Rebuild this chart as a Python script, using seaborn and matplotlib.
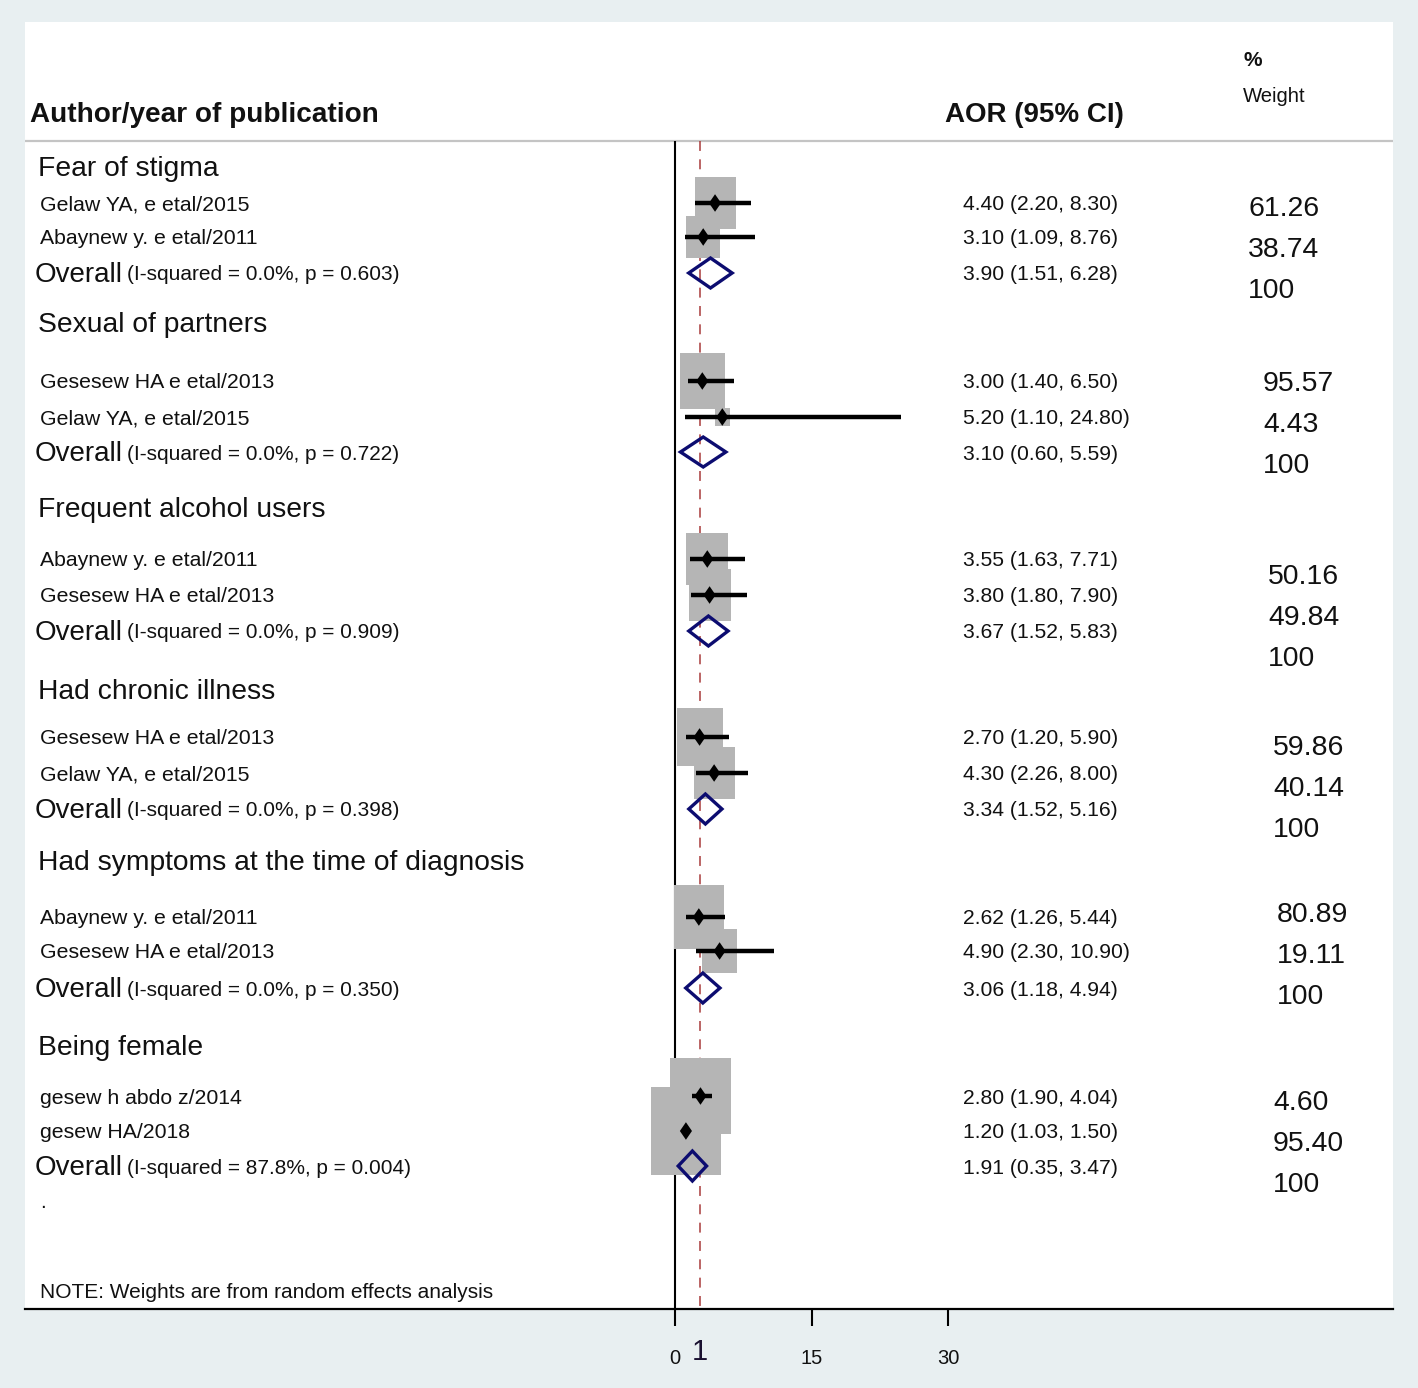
import numpy as np
import pandas as pd
import seaborn as sns
import matplotlib.pyplot as plt
from matplotlib.patches import Rectangle, Polygon

sns.set_theme(style='white')
plt.rcParams['font.family'] = ['Liberation Sans', 'DejaVu Sans']

# data
groups = ['Fear of stigma', 'Sexual of partners', 'Frequent alcohol users',
          'Had chronic illness', 'Had symptoms at the time of diagnosis', 'Being female']
studies = [['Gelaw YA, e etal/2015', 'Abaynew y. e etal/2011'],
           ['Gesesew HA e etal/2013', 'Gelaw YA, e etal/2015'],
           ['Abaynew y. e etal/2011', 'Gesesew HA e etal/2013'],
           ['Gesesew HA e etal/2013', 'Gelaw YA, e etal/2015'],
           ['Abaynew y. e etal/2011', 'Gesesew HA e etal/2013'],
           ['gesew h abdo z/2014', 'gesew HA/2018']]
aor = [[4.40, 3.10], [3.00, 5.20], [3.55, 3.80], [2.70, 4.30], [2.62, 4.90], [2.80, 1.20]]
aor_lo = [[2.20, 1.09], [1.40, 1.10], [1.63, 1.80], [1.20, 2.26], [1.26, 2.30], [1.90, 1.03]]
aor_hi = [[8.30, 8.76], [6.50, 24.80], [7.71, 7.90], [5.90, 8.00], [5.44, 10.90], [4.04, 1.50]]
pooled = [3.90, 3.10, 3.67, 3.34, 3.06, 1.91]
pooled_lo = [1.51, 0.60, 1.52, 1.52, 1.18, 0.35]
pooled_hi = [6.28, 5.59, 5.83, 5.16, 4.94, 3.47]
i_squared = [0.0, 0.0, 0.0, 0.0, 0.0, 87.8]
p_het = ['0.603', '0.722', '0.909', '0.398', '0.350', '0.004']
weights = [[61.26, 38.74], [95.57, 4.43], [50.16, 49.84], [59.86, 40.14], [80.89, 19.11], [4.60, 95.40]]
ref_line = 2.75

# layout (rows in pixel units from top)
header_y = [167, 323, 508, 690, 861, 1046]
study_y = [[203, 237], [381, 417], [559, 595], [737, 773], [917, 951], [1096, 1131]]
overall_y = [273, 452, 631, 809, 988, 1166]
wt_x = [1248, 1263, 1268, 1273, 1277, 1273]
wt_y = [207, 382, 575, 746, 913, 1101]
box_size = [[4.5, 3.75], [4.95, 1.65], [4.6, 4.6], [5.05, 4.5], [5.5, 3.9], [6.6, 7.6]]

PX = 9.1       # pixels per AOR unit
X0 = 675       # pixel of AOR = 0
DY = 2         # text nudge
def cx(px):
    return (px - X0) / PX

W, H = 1418, 1388
fig = plt.figure(figsize=(W / 100, H / 100), dpi=100, facecolor='#e8eff1')
ax = fig.add_axes([25 / W, (H - 1309) / H, (1393 - 25) / W, (1309 - 22) / H])
ax.set_facecolor('white')
ax.set_xlim(cx(25), cx(1393))
ax.set_ylim(1309, 22)

txt = '#111111'

def label(x, y, s, size, **kw):
    ax.text(cx(x), y + DY, s, fontsize=size, color=txt, va='center', **kw)

# lines
ax.axhline(141, color='#c4c4c4', lw=1.6, zorder=1)
ax.vlines(0, 141, 1309, colors='black', lw=1.5, zorder=1)
ax.vlines(ref_line, 141, 1309, colors='#a83a3a', lw=1.1,
          linestyles=(0, (6.5, 5.5)), zorder=1)

rows = []
for g in range(len(groups)):
    for k in range(len(studies[g])):
        y = study_y[g][k]
        bw = box_size[g][k]
        bh = bw * PX * 1.26
        ax.add_patch(Rectangle((aor[g][k] - bw / 2, y - bh / 2), bw, bh,
                               facecolor='#b5b5b5', edgecolor='none', zorder=2))
        ax.plot([aor_lo[g][k], aor_hi[g][k]], [y, y], color='black', lw=3.2,
                solid_capstyle='butt', zorder=3)
        rows.append({'aor': aor[g][k], 'y': y})
    # pooled diamond
    y = overall_y[g]
    ax.add_patch(Polygon([(pooled_lo[g], y), (pooled[g], y - 15), (pooled_hi[g], y),
                          (pooled[g], y + 15)], closed=True, fill=False,
                         edgecolor='#0c0c70', lw=2.4, joinstyle='miter', zorder=5))

df = pd.DataFrame(rows)
sns.scatterplot(data=df, x='aor', y='y', ax=ax, color='black', s=160,
                marker=[(-1, 0), (0, 1.45), (1, 0), (0, -1.45)],
                edgecolor='none', zorder=4, legend=False)
ax.set_xlabel('')
ax.set_ylabel('')

# text columns
for g in range(len(groups)):
    label(38, header_y[g], groups[g], 20.3)
    for k in range(len(studies[g])):
        y = study_y[g][k]
        label(40, y, studies[g][k], 15.3)
        label(963, y, f'{aor[g][k]:.2f} ({aor_lo[g][k]:.2f}, {aor_hi[g][k]:.2f})', 15.2)
        label(wt_x[g], wt_y[g] + 41 * k, f'{weights[g][k]:.2f}', 20.4)
    y = overall_y[g]
    label(35, y, 'Overall', 20)
    label(127, y, f'(I-squared = {i_squared[g]:.1f}%, p = {p_het[g]})', 15)
    label(963, y, f'{pooled[g]:.2f} ({pooled_lo[g]:.2f}, {pooled_hi[g]:.2f})', 15.2)
    label(wt_x[g], wt_y[g] + 82, '100', 20.4)

label(40, 1201, '.', 15)
label(40, 1290, 'NOTE: Weights are from random effects analysis', 15)

# headers
label(30, 113, 'Author/year of publication', 20.1, fontweight='bold')
label(945, 113, 'AOR (95% CI)', 20, fontweight='bold')
label(1243, 58, '%', 15, fontweight='bold')
label(1243, 94, 'Weight', 14.6)

# axis
for s in ['left', 'right', 'top']:
    ax.spines[s].set_visible(False)
ax.spines['bottom'].set_color('black')
ax.spines['bottom'].set_linewidth(1.6)
ax.set_yticks([])
ax.set_xticks([0, 15, 30])
ax.set_xticklabels(['0', '15', '30'])
ax.tick_params(axis='x', direction='out', length=12.5, width=1.5, color='black',
               pad=16.5, labelsize=14.5, labelcolor=txt, bottom=True)
ax.text(ref_line, 1352, '1', fontsize=21, color='#1a1030', ha='center', va='center',
        clip_on=False)

fig.savefig('out.png', dpi=100, facecolor=fig.get_facecolor())
